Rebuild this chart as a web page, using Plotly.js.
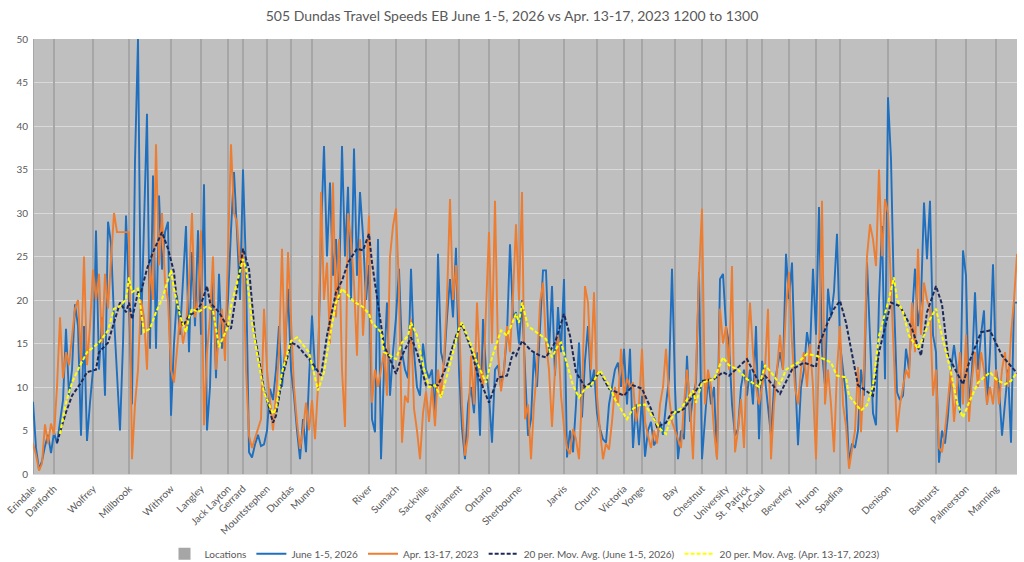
<!DOCTYPE html>
<html><head><meta charset="utf-8">
<script src="https://cdn.plot.ly/plotly-3.0.1.min.js"></script>
<style>html,body{margin:0;padding:0;background:#fff}#chart{width:1024px;height:562px}</style>
</head><body><div id="chart"></div>
<script>
// Location names along the route and their sample index
const locationNames = ["Erindale","Danforth","Wolfrey","Millbrook","Withrow","Langley","Jack Layton","Gerrard","Mountstephen","Dundas","Munro","River","Sumach","Sackville","Parliament","Ontario","Sherbourne","Jarvis","Church","Victoria","Yonge","Bay","Chestnut","University","St. Patrick","McCaul","Beverley","Huron","Spadina","Denison","Bathurst","Palmerston","Manning"];
const locationIdx = [0,7,20,32,46,56,65,70,78,86,93,112,121,131,142,152,162,177,188,197,203,214,223,231,238,243,252,261,269,285,301,311,321];
const locationHeight = [50,50,50,50,50,50,50,50,50,50,50,50,50,50,50,50,50,50,50,50,50,50,50,50,50,50,50,50,50,50,50,50,50];

// June 1-5, 2026 speeds
const june = [
8.3,3.0,0.5,1.5,3.2,4.5,2.4,4.8,3.5,6.0,
8.5,16.7,9.0,12.0,19.5,17.0,4.4,17.0,3.8,8.2,
12.0,28.0,12.0,18.0,9.0,29.0,26.5,18.0,11.5,5.0,
15.0,29.7,19.7,8.0,36.0,50.0,16.0,27.4,41.4,14.4,
34.3,14.4,32.0,23.5,27.8,29.0,6.7,15.0,20.5,16.0,
22.0,28.5,14.0,25.5,17.0,28.0,16.0,33.3,5.0,10.0,
23.5,11.0,23.0,14.4,16.7,20.0,28.0,34.7,27.8,20.0,
35.0,23.5,2.5,1.9,3.4,4.5,3.2,3.4,5.0,9.8,
8.5,12.0,17.0,10.0,14.0,21.3,12.0,9.0,5.0,1.7,
6.3,2.5,10.9,18.2,12.0,12.0,27.4,37.7,25.0,33.5,
22.8,27.0,20.0,37.7,25.0,33.0,20.0,37.4,22.8,32.4,
27.4,20.0,24.0,6.3,4.8,27.0,1.7,12.0,19.7,9.0,
14.0,18.0,23.6,14.0,12.0,11.0,23.6,14.0,10.0,9.0,
15.0,12.0,11.0,12.0,6.3,25.3,14.0,12.5,18.0,22.4,
18.0,26.0,12.0,5.2,1.7,8.0,10.0,7.0,14.0,4.4,
17.8,12.0,9.0,3.6,12.0,12.5,10.0,12.0,16.0,26.4,
18.0,18.6,15.0,20.0,12.0,4.4,6.3,14.0,10.0,16.0,
23.4,23.4,14.0,21.6,11.3,19.2,14.0,22.4,1.9,5.0,
2.5,8.0,15.1,6.5,13.0,17.0,10.0,12.0,7.0,5.2,
4.0,3.6,8.0,10.0,12.0,12.8,10.0,14.4,8.0,14.4,
3.0,8.0,3.3,9.0,2.0,5.0,6.0,3.3,4.0,6.0,
4.5,8.0,11.0,23.6,10.0,1.7,5.0,4.0,13.6,6.0,
9.0,10.5,23.2,1.7,6.0,11.0,8.0,10.0,1.7,22.4,
23.0,17.0,15.0,8.0,4.4,5.2,10.0,12.0,9.0,12.0,
8.0,17.0,4.0,13.0,11.0,8.0,4.4,10.0,12.0,14.0,
12.0,25.3,20.1,24.3,12.0,3.3,10.0,12.0,16.3,14.0,
23.6,16.0,30.7,14.0,10.2,21.3,18.0,21.0,27.6,15.0,
12.0,9.0,1.3,3.5,3.0,5.0,12.0,9.0,24.3,15.0,
7.0,5.6,20.0,28.5,10.9,43.3,36.2,20.0,9.4,8.5,
9.0,14.4,12.0,18.0,23.6,17.0,20.0,31.2,24.7,31.4,
16.0,14.0,1.3,5.0,3.5,6.7,12.0,14.8,12.0,7.0,
25.7,22.8,7.5,12.0,20.9,12.0,16.0,18.8,8.0,14.0,
24.1,12.0,10.0,4.4,8.0,12.0,3.6,19.7,19.7
];

// Apr. 13-17, 2023 speeds
const april = [
3.5,2.2,0.4,1.2,5.7,3.5,5.8,4.5,10.0,18.0,
11.0,14.0,12.5,16.0,19.0,20.0,13.0,25.0,12.5,17.0,
23.5,20.0,23.0,15.0,23.0,19.0,24.0,30.0,27.8,27.8,
27.8,27.8,27.8,1.7,8.0,12.0,20.0,18.0,12.0,24.0,
20.0,37.9,24.0,30.0,22.0,20.0,12.0,10.5,14.0,18.0,
15.0,17.0,22.0,30.0,18.0,20.0,28.0,5.6,14.0,18.0,
25.0,12.0,16.0,19.0,13.0,26.6,37.9,30.0,28.9,24.0,
26.0,12.0,4.4,3.0,4.0,5.2,6.3,19.0,12.0,8.0,
5.0,9.0,14.0,25.9,12.8,25.5,18.0,10.0,6.0,2.9,
5.0,8.2,5.0,8.5,4.0,10.0,32.4,20.0,24.3,15.0,
33.5,18.0,27.0,12.0,5.4,30.0,26.8,22.0,13.6,27.0,
15.9,22.0,29.7,8.2,12.0,10.0,12.0,14.0,9.0,25.0,
28.5,30.5,21.3,3.6,9.0,8.2,17.8,7.5,5.0,1.7,
7.0,9.5,6.0,10.0,5.5,12.0,9.0,13.2,20.0,31.6,
20.0,24.0,18.0,8.0,2.1,4.4,13.6,8.0,19.7,12.0,
10.0,18.0,27.8,15.0,31.4,14.0,9.5,12.0,17.0,14.0,
20.5,28.7,20.0,32.4,6.3,8.0,1.7,8.0,12.0,19.7,
22.0,15.0,12.0,5.4,12.0,16.0,9.0,5.4,3.0,2.3,
5.2,4.0,1.7,9.0,21.6,19.7,12.0,20.9,9.0,5.0,
1.7,3.5,2.8,6.0,10.0,8.0,14.4,9.0,11.0,10.0,
10.5,6.0,8.0,14.4,6.0,4.4,3.0,5.0,3.5,8.0,
10.0,14.4,9.0,6.0,5.0,4.0,3.0,8.0,12.0,8.0,
1.7,12.0,22.8,30.5,8.0,12.0,10.0,5.0,1.7,19.0,
15.0,17.0,12.0,23.9,2.5,5.0,8.6,3.0,14.0,19.7,
14.0,10.0,8.0,10.0,12.0,19.0,1.7,8.0,12.0,16.0,
12.0,19.0,23.2,15.0,10.0,8.0,12.0,14.0,10.0,15.0,
10.0,1.7,14.0,31.4,8.0,12.0,8.0,2.5,12.0,17.0,
8.0,5.5,0.6,3.0,5.0,12.3,4.8,12.0,25.0,28.7,
27.0,23.9,35.0,25.0,31.6,30.0,22.0,14.0,4.8,8.0,
10.0,12.0,11.0,19.7,14.0,25.9,16.0,22.0,20.0,19.0,
9.0,12.0,3.0,2.5,5.0,8.2,12.0,6.0,10.0,14.0,
8.0,16.0,6.0,11.0,14.0,10.0,14.0,12.0,8.0,10.0,
8.0,12.0,8.0,12.0,14.0,10.0,16.0,20.0,25.3
];

// 20 per. moving averages (sample index, value)
const maJuneX = [8,11,13,16,18,21,22,25,27,29,31,32,33,35,36,38,40,42,43,45,47,48,50,52,54,56,58,59,62,64,66,68,70,72,74,77,80,81,83,86,88,91,93,96,98,101,103,105,108,110,112,113,115,117,119,121,123,126,128,131,135,138,141,143,146,148,152,155,158,160,161,163,166,169,171,174,177,179,181,184,186,189,192,197,200,203,206,208,211,213,215,217,220,223,227,230,232,238,242,244,249,253,257,261,262,265,267,269,271,273,275,280,282,286,289,293,296,298,301,303,305,310,312,316,319,323,327,328];
const maJuneY = [3.6,7.1,9,10.5,11.7,12,14,15.1,17.4,19.7,18.6,19.7,17.8,20.9,20.9,23.6,25.5,27,27.8,25.9,23.2,19.7,17,18.2,18.6,19.5,21.6,19.7,18.6,17.4,16.7,21.3,25.9,23.6,15.9,9.8,5.9,6.7,10.9,15.1,14.8,13.6,12.8,11.3,15.9,20.9,22.2,24.3,25.9,25.7,27.6,24.3,19.7,14.8,13.2,11.5,13.6,15.7,14,10.2,10.2,12.5,15.9,17.2,14.4,11.7,8.2,11.1,11.3,14,13.6,15.3,14.2,13.6,13.4,15.1,18.4,15.9,11.7,10,10.5,11.7,9.8,9,10.2,9.8,7.5,5.4,5.9,7.1,7.1,7.5,9,10.7,10.9,11.7,11.3,13.2,10.5,11.3,9.2,12,12.8,12.3,14.8,17.5,19,19.9,17.4,13.6,10.2,9,14,19.7,19.3,16.7,13.6,18.6,21.6,19.5,13.6,10.3,12.8,16.3,16.5,13.6,11.9,11.6];
const maAprX = [9,11,13,15,18,20,22,25,27,29,31,32,33,35,37,39,41,43,46,47,49,51,52,53,55,58,60,62,65,66,68,70,71,73,75,77,80,81,83,86,88,90,92,95,97,99,101,103,105,107,110,112,113,116,117,120,121,123,125,126,128,130,132,134,136,138,140,142,143,146,148,151,153,156,158,161,162,163,165,168,171,173,175,176,178,180,182,184,186,189,192,194,198,200,202,204,207,209,211,212,214,216,220,221,223,227,230,232,235,238,242,244,246,249,251,255,258,261,265,266,268,271,272,276,278,280,282,285,287,288,290,292,295,297,299,301,303,306,308,310,312,315,319,321,324,326,328];
const maAprY = [4.6,8.2,10.5,12,14,14.5,15.1,16.5,19,19.3,20.1,22.6,20.9,21.3,16.3,16.7,18.6,20.1,23.4,21.3,18.2,16.3,18,19,18.6,19.3,18.8,14.6,17,19.3,22,24.7,23.6,17.4,13.2,9.4,6.9,7.5,11.7,15.3,15.7,14.8,14,9.6,11.7,15.9,19.7,21.3,20.5,19.8,19.2,18.4,17.4,16.3,14,13.4,13.2,15.1,15.9,17.4,15.9,12.5,10,10.2,8.8,11.3,14,16.7,17.4,14.8,12.8,10.5,13.4,16.5,15.9,18.4,17.4,19.7,17,16.3,15.5,13.4,14.8,15.1,12.5,10.2,8.8,9.8,10.2,11.9,10.2,8.6,6.3,7.5,7.9,8,6.3,5.2,4.6,5.9,7.1,7.5,9.6,8.2,10.5,10.9,13.4,12.5,12,10.9,10,12.5,11.7,10.3,12,12.8,13.8,13.6,13,12.8,11.3,11.1,9,7.3,7.9,10.2,15.9,19.7,22.6,20.1,18.6,15.9,14.4,15.9,17.8,19,15.9,11.7,8.2,6.5,8.2,10.5,11.7,10.9,10.3,10.7,11.7];

const sampleIdx = june.map((_, i) => i);
const txt = '#595959';
const font = 'Lato, "Open Sans", sans-serif';

const traces = [
  {type:'bar', name:'Locations', x:locationIdx, y:locationHeight, width:0.4,
   marker:{color:'#a6a6a6', line:{width:0}}, hoverinfo:'skip'},
  {type:'scatter', mode:'lines', name:'June 1-5, 2026', x:sampleIdx, y:june,
   line:{color:'#1f6fbf', width:1.9}},
  {type:'scatter', mode:'lines', name:'Apr. 13-17, 2023', x:sampleIdx, y:april,
   line:{color:'#ed7d31', width:1.9}},
  {type:'scatter', mode:'lines', name:'20 per. Mov. Avg. (June 1-5, 2026)', x:maJuneX, y:maJuneY,
   line:{color:'#1c2a5a', width:2, dash:'4px,2px'}},
  {type:'scatter', mode:'lines', name:'20 per. Mov. Avg. (Apr. 13-17, 2023)', x:maAprX, y:maAprY,
   line:{color:'#ffff00', width:2, dash:'4px,2px'}}
];

const layout = {
  width:1024, height:562,
  margin:{l:33, r:7, t:39, b:88, autoexpand:false},
  paper_bgcolor:'#ffffff', plot_bgcolor:'#bfbfbf',
  font:{family:font, color:txt, size:10},
  title:{text:'505 Dundas Travel Speeds EB June 1-5, 2026 vs Apr. 13-17, 2023 1200 to 1300',
         font:{family:font, size:14, color:txt}, x:0.5, xanchor:'center', y:0.972, yanchor:'middle'},
  showlegend:true,
  legend:{orientation:'h', x:0.5, xanchor:'center', y:-0.15, yanchor:'top',
          font:{family:font, size:10, color:txt}, bgcolor:'rgba(0,0,0,0)', itemwidth:30},
  bargap:0,
  xaxis:{type:'linear', range:[0, 328], tickmode:'array', tickvals:locationIdx, ticktext:locationNames,
         tickangle:-45, showgrid:false, zeroline:false, showline:true, linecolor:'#d9d9d9',
         automargin:false, ticks:'', ticklabelstandoff:4, tickfont:{family:font, size:10, color:txt}, fixedrange:true},
  yaxis:{range:[0, 50], dtick:5, tick0:0, showgrid:true, gridcolor:'#d9d9d9', gridwidth:1,
         automargin:false, zeroline:false, showline:false, ticks:'', ticklabelstandoff:4,
         tickfont:{family:font, size:10, color:txt}, fixedrange:true}
};

Plotly.newPlot('chart', traces, layout, {displayModeBar:false, staticPlot:true});
</script>
</body></html>
